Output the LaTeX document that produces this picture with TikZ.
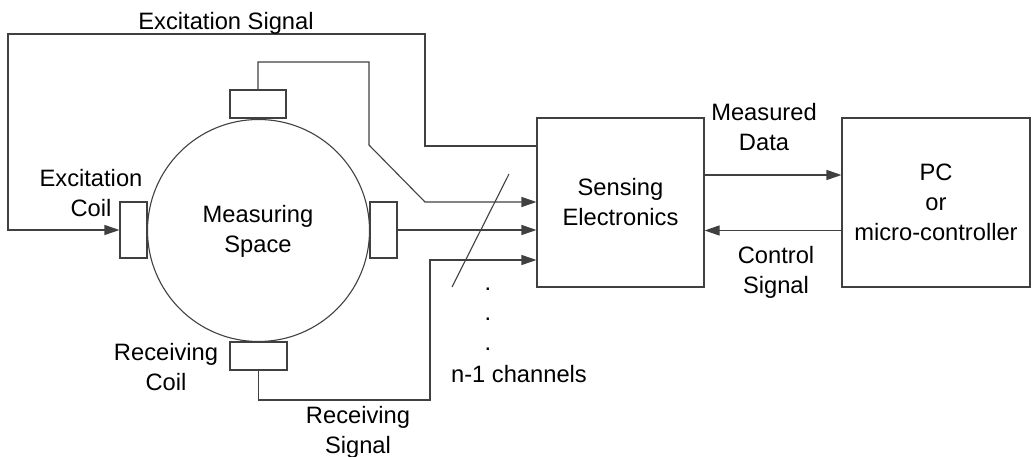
\documentclass[tikz,border=0pt]{standalone}
\usepackage{fontspec}
\setmainfont{Liberation Sans}
\usetikzlibrary{arrows.meta}
\begin{document}
\begin{tikzpicture}[x=1pt,y=-1pt,
  line/.style={draw=black!75, line width=1.1pt},
  arr/.style={line, -{Triangle[length=15pt,width=10pt]}},
  box/.style={line, rectangle, inner sep=0pt},
  lbl/.style={font=\fontsize{23.7}{30}\selectfont, align=center, inner sep=0pt}]
\useasboundingbox (0,0) rectangle (1032,457);
% measuring space
\node[line, circle, minimum size=222pt, inner sep=0pt] (space) at (258.5,230.5) {};
% coils
\node[box, fill=white, minimum width=56pt, minimum height=28pt] (topcoil) at (258,104) {};
\node[box, fill=white, minimum width=27pt, minimum height=56pt] (leftcoil) at (133.5,230) {};
\node[box, fill=white, minimum width=27pt, minimum height=56pt] (rightcoil) at (383.5,230) {};
\node[box, fill=white, minimum width=57pt, minimum height=28pt] (botcoil) at (258.5,356) {};
% blocks
\node[box, lbl, minimum width=167pt, minimum height=169pt] (sense) at (620.5,202.5) {Sensing\\Electronics};
\node[box, lbl, minimum width=188pt, minimum height=169pt] (pc) at (936,202.5) {PC\\or\\micro-controller};
% connectors
\draw[arr] (sense.west |- 0,146) -- (425,146) -- (425,34) -- (8,34) |- (leftcoil.west);
\draw[arr] (topcoil.north) |- (369,62) -- (369,145) -- (425,202) -- (sense.west |- 0,202);
\draw[arr] (rightcoil.east) -- (sense.west |- rightcoil.east);
\draw[arr] (botcoil.south) |- (430,400) -- (430,260) -- (sense.west |- 0,260);
\draw[arr] (sense.east |- 0,175) -- (pc.west |- 0,175);
\draw[arr] (pc.west |- 0,230.5) -- (sense.east |- 0,230.5);
\coordinate (sl1) at (452,287);
\coordinate (sl2) at (509,174);
\draw[line] (sl1) -- (sl2);
% labels
\node[lbl] (l1) at (226,23) {Excitation Signal};
\node[lbl] (l2) at (91,193) {Excitation\\Coil};
\node[lbl] (l3) at (258,231) {Measuring\\Space};
\node[lbl] (l4) at (166,367) {Receiving\\Coil};
\node[lbl] (l5) at (358,432) {Receiving\\Signal};
\node[lbl] (l6) at (764,127) {Measured\\Data};
\node[lbl] (l7) at (776,272) {Control\\Signal};
\node[lbl, anchor=base] (d1) at (488,290) {.};
\node[lbl, anchor=base] (d2) at (488,320) {.};
\node[lbl, anchor=base] (d3) at (488,350) {.};
\node[lbl] (l8) at (519,374) {n-1 channels};
\end{tikzpicture}
\end{document}
